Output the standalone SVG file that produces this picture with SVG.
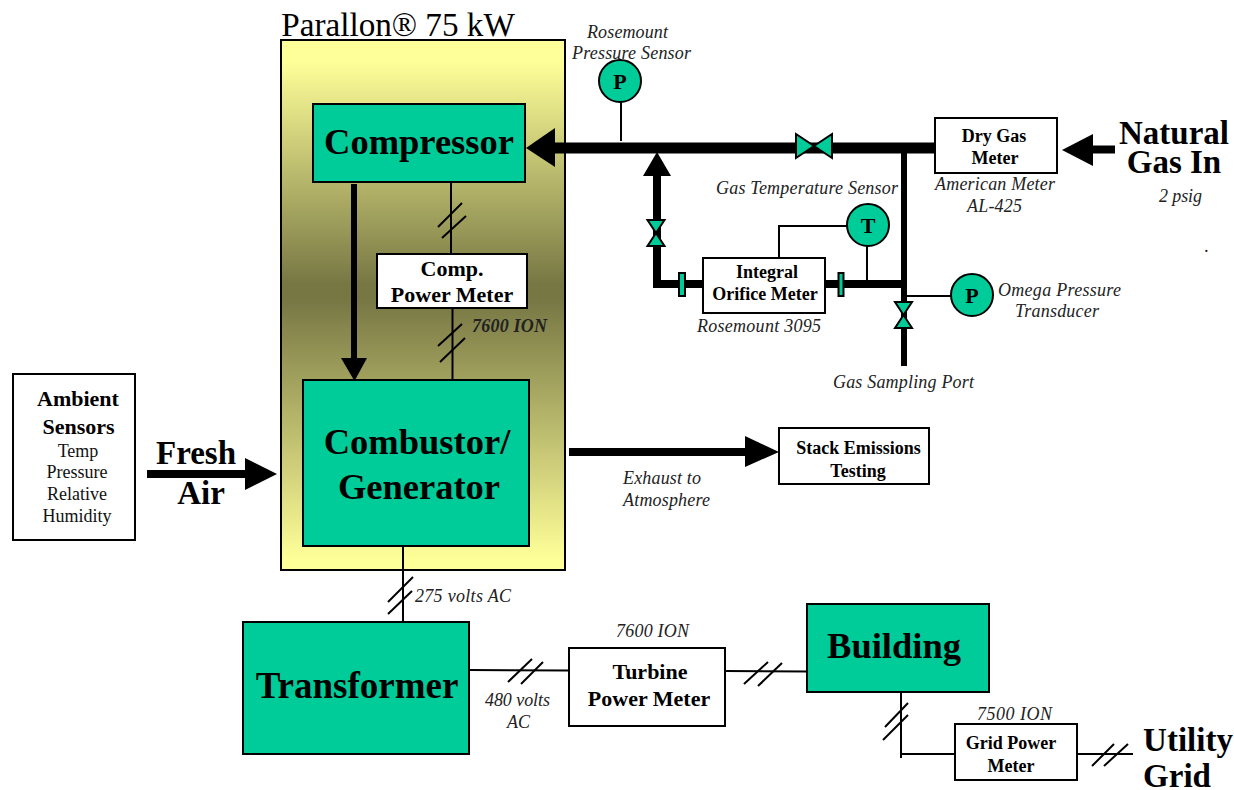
<svg xmlns="http://www.w3.org/2000/svg" xmlns:xlink="http://www.w3.org/1999/xlink" width="1234" height="790" viewBox="0 0 1234 790">
<style>
text{font-family:"Liberation Serif","Times New Roman",serif;fill:#000;text-anchor:middle}
.box{stroke:#000;stroke-width:2;fill:#fff}
.teal{stroke:#000;stroke-width:2;fill:#00CC99}
.ft{stroke:#000;stroke-width:2;fill:#00CC99}
.b36{font-size:36.5px;font-weight:bold}
.b33{font-size:33px;font-weight:bold}
.b22{font-size:22px;font-weight:bold}
.b18{font-size:18px;font-weight:bold}
.r18{font-size:18px;fill:#111}
.it{font-size:18px;font-style:italic;text-anchor:start;fill:#222}
.thin{stroke:#000;stroke-width:2;fill:none}
.tick{stroke:#000;stroke-width:2;fill:none}
.p5{stroke:#000;stroke-width:6;fill:none}
.p8{stroke:#000;stroke-width:8;fill:none}
.p11{stroke:#000;stroke-width:11;fill:none}
.head{fill:#000;stroke:none}
</style>
<defs>
<linearGradient id="body" x1="0" y1="0" x2="0" y2="1">
<stop offset="0" stop-color="#FFFF99"/>
<stop offset="0.04" stop-color="#FFFF99"/>
<stop offset="0.46" stop-color="#777744"/>
<stop offset="0.49" stop-color="#777744"/>
<stop offset="0.98" stop-color="#FFFF99"/>
<stop offset="1" stop-color="#FFFF99"/>
</linearGradient>
<g id="valveH"><polygon class="ft" points="-18,-12 0,0 -18,12"/><polygon class="ft" points="18,-12 0,0 18,12"/></g>
<g id="valveV"><polygon class="ft" points="-8.5,-13 8.5,-13 0,0"/><polygon class="ft" points="-8.5,13 8.5,13 0,0"/></g>
</defs>

<g id="parallon">
<rect x="281" y="40" width="284" height="530" stroke="#000" stroke-width="2" fill="url(#body)"/>
<text x="398" y="36" font-size="33.200">Parallon® 75 kW</text>
</g>

<g id="connectors">
<line class="thin" x1="451" y1="182" x2="451" y2="254"/>
<line class="tick" x1="438" y1="227" x2="462" y2="203"/>
<line class="tick" x1="442" y1="238" x2="466" y2="216"/>
<line class="thin" x1="452.500" y1="308" x2="452.500" y2="380"/>
<line class="tick" x1="438" y1="346" x2="462" y2="324"/>
<line class="tick" x1="440" y1="362" x2="465" y2="338"/>
<line x1="354" y1="184" x2="354" y2="360" stroke="#000" stroke-width="6"/>
<polygon class="head" points="341,358 367,358 354.500,381"/>
<line class="p11" x1="550" y1="148" x2="935" y2="148"/>
<polygon class="head" points="526,148 555,128 555,167"/>
<path class="p8" d="M657,170V284H703"/>
<polygon class="head" points="657,152 643,176 671,176"/>
<line class="p8" x1="825" y1="284" x2="904" y2="284"/>
<line class="p5" x1="904" y1="148" x2="904" y2="366"/>
<path class="thin" d="M847,226H779V258"/>
<line class="thin" x1="867" y1="246" x2="867" y2="284"/>
<line class="thin" x1="904" y1="296" x2="951" y2="296"/>
<line class="thin" x1="621" y1="102" x2="621" y2="141"/>
<line class="p8" x1="1090" y1="149.500" x2="1115" y2="149.500"/>
<polygon class="head" points="1062,150 1093,134 1093,166"/>
<line class="p8" x1="569" y1="452" x2="750" y2="452"/>
<polygon class="head" points="779,452 745,436 745,467"/>
<line class="p8" x1="147" y1="474" x2="250" y2="474"/>
<polygon class="head" points="277,474 245,458 245,490"/>
<line class="thin" x1="403" y1="546" x2="403" y2="622"/>
<line class="tick" x1="388" y1="602" x2="413" y2="577"/>
<line class="tick" x1="388" y1="614" x2="412" y2="591"/>
<line class="thin" x1="469" y1="670" x2="569" y2="670.500"/>
<line class="tick" x1="508" y1="682" x2="532" y2="659"/>
<line class="tick" x1="521" y1="684" x2="543" y2="662"/>
<line class="thin" x1="725" y1="671" x2="807" y2="671.500"/>
<line class="tick" x1="744" y1="684" x2="768" y2="662"/>
<line class="tick" x1="758" y1="686" x2="782" y2="663"/>
<path class="thin" d="M901,692V758M901,754H955"/>
<line class="tick" x1="883" y1="740" x2="908" y2="715"/>
<line class="tick" x1="885" y1="727" x2="908" y2="703"/>
<line class="thin" x1="1077" y1="754" x2="1133" y2="754"/>
<line class="tick" x1="1092" y1="766" x2="1114" y2="744"/>
<line class="tick" x1="1104" y1="766" x2="1128" y2="744"/>
</g>

<g id="compressor">
<rect class="teal" x="313" y="104" width="212" height="78"/>
<text class="b36" x="419" y="154">Compressor</text>
</g>
<g id="comp-meter">
<rect class="box" x="377" y="254" width="150" height="54"/>
<text class="b22" x="452" y="276">Comp.</text>
<text class="b22" x="452" y="302">Power Meter</text>
</g>
<text id="comp-meter-model" class="it" x="472" y="332" textLength="75" font-weight="bold">7600 ION</text>
<g id="combustor">
<rect class="teal" x="303" y="380" width="226" height="166"/>
<text class="b36" x="417" y="454">Combustor/</text>
<text class="b36" x="419" y="499">Generator</text>
</g>
<g id="ambient">
<rect class="box" x="13" y="374" width="122" height="166"/>
<text class="b22" x="78" y="406">Ambient</text>
<text class="b22" x="78.500" y="434">Sensors</text>
<text class="r18" x="78" y="457">Temp</text>
<text class="r18" x="77" y="478">Pressure</text>
<text class="r18" x="77" y="500">Relative</text>
<text class="r18" x="77" y="522">Humidity</text>
</g>
<g id="fresh-air">
<text class="b33" x="196" y="464" font-size="33.500">Fresh</text>
<text class="b33" x="201" y="504">Air</text>
</g>
<g id="rosemount-p">
<text class="it" x="587" y="38" textLength="81">Rosemount</text>
<text class="it" x="572" y="59" textLength="119">Pressure Sensor</text>
<circle class="teal" cx="620" cy="81" r="21"/>
<text class="b22" x="620" y="89">P</text>
</g>
<use id="valve-main" xlink:href="#valveH" href="#valveH" x="814" y="146"/>
<use id="valve-bypass" xlink:href="#valveV" href="#valveV" x="656" y="233"/>
<use id="valve-sample" xlink:href="#valveV" href="#valveV" x="903.500" y="315"/>
<rect id="flange-left" class="ft" x="679" y="273" width="6" height="23"/>
<rect id="flange-right" class="ft" x="838.500" y="273" width="5" height="23"/>
<g id="orifice-meter">
<rect class="box" x="703" y="258" width="122" height="55"/>
<text class="b18" x="767" y="278">Integral</text>
<text class="b18" x="765" y="300">Orifice Meter</text>
<text class="it" x="697" y="332" textLength="124">Rosemount 3095</text>
</g>
<g id="temp-sensor">
<text class="it" x="716" y="194" textLength="182">Gas Temperature Sensor</text>
<circle class="teal" cx="868" cy="225" r="21"/>
<text class="b22" x="868" y="233">T</text>
</g>
<g id="omega-p">
<circle class="teal" cx="972" cy="295" r="21"/>
<text class="b22" x="972" y="303">P</text>
<text class="it" x="998" y="296" textLength="123">Omega Pressure</text>
<text class="it" x="1015" y="317" textLength="84">Transducer</text>
</g>
<text id="sampling-port" class="it" x="833" y="388" textLength="141">Gas Sampling Port</text>
<g id="dry-gas-meter">
<rect class="box" x="935" y="118" width="122" height="55"/>
<text class="b18" x="994" y="142">Dry Gas</text>
<text class="b18" x="995" y="164">Meter</text>
<text class="it" x="935" y="190" textLength="120">American Meter</text>
<text class="it" x="967" y="212" textLength="55">AL-425</text>
</g>
<g id="natural-gas">
<text class="b33" x="1174" y="144">Natural</text>
<text class="b33" x="1174" y="173">Gas In</text>
<text class="it" x="1159" y="202" textLength="43">2 psig</text>
<text class="it" x="1204.500" y="252">.</text>
</g>
<g id="stack">
<rect class="box" x="779" y="428" width="150" height="56"/>
<text class="b18" x="858.500" y="454">Stack Emissions</text>
<text class="b18" x="858" y="477">Testing</text>
</g>
<g id="exhaust">
<text class="it" x="623" y="484" textLength="78">Exhaust to</text>
<text class="it" x="623" y="506" textLength="87">Atmosphere</text>
</g>
<text id="label-275" class="it" x="415" y="602" textLength="96">275 volts AC</text>
<g id="transformer">
<rect class="teal" x="243" y="622" width="226" height="132"/>
<text class="b36" x="357" y="698" style="font-size:37px">Transformer</text>
</g>
<g id="label-480">
<text class="it" x="485" y="706" textLength="65">480 volts</text>
<text class="it" x="507" y="728" textLength="23">AC</text>
</g>
<g id="turbine-meter">
<text class="it" x="616" y="637" textLength="73">7600 ION</text>
<rect class="box" x="569" y="648" width="156" height="78"/>
<text class="b22" x="650" y="679">Turbine</text>
<text class="b22" x="649" y="706">Power Meter</text>
</g>
<g id="building">
<rect class="teal" x="807" y="604" width="182" height="88"/>
<text class="b36" x="894" y="658">Building</text>
</g>
<g id="grid-meter">
<text class="it" x="977" y="720" textLength="75">7500 ION</text>
<rect class="box" x="955" y="724" width="122" height="56"/>
<text class="b18" x="1011" y="749">Grid Power</text>
<text class="b18" x="1011" y="772">Meter</text>
</g>
<g id="utility-grid">
<text class="b33" x="1188" y="751">Utility</text>
<text class="b33" x="1177" y="787">Grid</text>
</g>
</svg>
